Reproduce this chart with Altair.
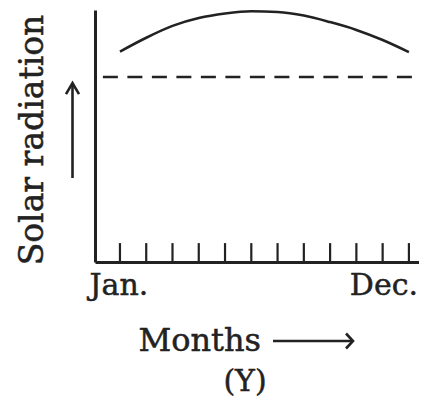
import altair as alt
import pandas as pd

# ---- data ----
months = list(range(1, 13))
radiation = [83.5, 89.0, 93.7, 96.8, 98.6, 99.5, 99.2, 97.8, 95.2, 92.1, 88.1, 83.3]
threshold = [73.4]
tick_height = [7.5]
label_months = [1, 12]
label_texts = ["Jan.", "Dec."]

INK = "#222222"
FONT = "DejaVu Serif"
TXT = dict(font=FONT, color=INK, stroke=INK, strokeWidth=0.5, baseline="alphabetic")

xs = alt.Scale(domain=[0.05, 12.384], nice=False, zero=False)
ys = alt.Scale(domain=[0, 100], nice=False, zero=False)

curve_df = pd.DataFrame({"month": months, "radiation": radiation})
ticks_df = pd.DataFrame({"month": months, "base": [0] * 12, "top": tick_height * 12})
dash_df = pd.DataFrame({"x": [0.35], "x2": [12.384], "y": threshold})
lab_df = pd.DataFrame({"month": label_months, "text": label_texts})

axes = alt.Chart(curve_df).mark_point(opacity=0).encode(
    x=alt.X("month:Q", scale=xs, axis=alt.Axis(domain=True, domainColor=INK, domainWidth=3,
                                               ticks=False, labels=False, grid=False, title=None)),
    y=alt.Y("radiation:Q", scale=ys, axis=alt.Axis(domain=True, domainColor=INK, domainWidth=3,
                                                   ticks=False, labels=False, grid=False, title=None)),
)

curve = alt.Chart(curve_df).mark_line(interpolate="monotone", color=INK, strokeWidth=2.6).encode(
    x=alt.X("month:Q", scale=xs), y=alt.Y("radiation:Q", scale=ys)
)

ticks = alt.Chart(ticks_df).mark_rule(color=INK, strokeWidth=2.2).encode(
    x=alt.X("month:Q", scale=xs), y=alt.Y("base:Q", scale=ys), y2="top:Q"
)

dashed = alt.Chart(dash_df).mark_rule(color=INK, strokeWidth=2.6, strokeDash=[15, 9.5]).encode(
    x=alt.X("x:Q", scale=xs), x2="x2:Q", y=alt.Y("y:Q", scale=ys)
)

jan = alt.Chart(lab_df.iloc[[0]]).mark_text(fontSize=30, align="center", dx=-1, **TXT).encode(
    x=alt.X("month:Q", scale=xs), y=alt.value(285), text="text:N"
)
dec = alt.Chart(lab_df.iloc[[1]]).mark_text(fontSize=30, align="center", dx=-25, **TXT).encode(
    x=alt.X("month:Q", scale=xs), y=alt.value(285), text="text:N"
)

one = pd.DataFrame({"t": ["Solar radiation"]})
ylab = alt.Chart(one).mark_text(fontSize=33, angle=270, align="center", **TXT).encode(
    x=alt.value(-52), y=alt.value(130), text="t:N"
)

months_t = alt.Chart(pd.DataFrame({"t": ["Months"]})).mark_text(
    fontSize=32, align="right", **TXT).encode(
    x=alt.value(166), y=alt.value(341), text="t:N"
)
y_t = alt.Chart(pd.DataFrame({"t": ["(Y)"]})).mark_text(
    fontSize=30, align="center", **TXT).encode(
    x=alt.value(150), y=alt.value(381), text="t:N"
)

# arrows
up_shaft = alt.Chart(one).mark_rule(color=INK, strokeWidth=2.6).encode(
    x=alt.value(-22.5), y=alt.value(74), y2=alt.value(168)
)
up_head = alt.Chart(one).mark_point(shape="M-1,1.7L0,0L1,1.7", size=169, filled=False,
                                    color=INK, strokeWidth=2.6, opacity=1).encode(
    x=alt.value(-22.5), y=alt.value(73)
)
r_shaft = alt.Chart(one).mark_rule(color=INK, strokeWidth=2.6).encode(
    x=alt.value(178), x2=alt.value(257), y=alt.value(331)
)
r_head = alt.Chart(one).mark_point(shape="M-0.93,-1L0,0L-0.93,1", size=225, filled=False,
                                   color=INK, strokeWidth=2.6, opacity=1).encode(
    x=alt.value(258), y=alt.value(331)
)

chart = alt.layer(axes, dashed, ticks, curve, jan, dec, ylab, months_t, y_t,
                  up_shaft, up_head, r_shaft, r_head).properties(
    width=324, height=252,
    autosize=alt.AutoSizeParams(type="none"),
    padding={"left": 87, "top": 2, "right": 0, "bottom": 135},
).configure_view(stroke=None)

chart.save("out.html", embed_options={"renderer": "svg", "actions": False})
